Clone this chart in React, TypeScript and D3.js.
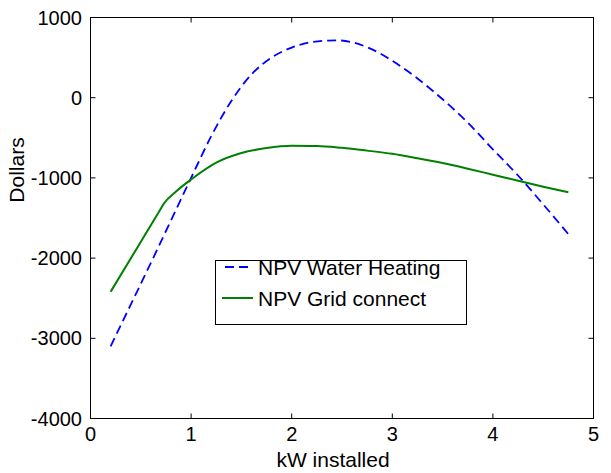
import React from "react";
import * as d3 from "d3";

const xTicks = [0, 1, 2, 3, 4, 5];
const yTicks = [1000, 0, -1000, -2000, -3000, -4000];

const waterX = [0.2, 0.4, 0.6, 0.8, 1.0, 1.2, 1.4, 1.6, 1.8, 2.0, 2.2, 2.45, 2.75, 3.0, 3.25, 3.5, 3.75, 4.0, 4.25, 4.5, 4.75];
const waterY = [-3100, -2580, -2060, -1530, -1000, -480, -40, 290, 500, 625, 695, 715, 630, 460, 240, -20, -310, -645, -970, -1330, -1700];

const gridX = [0.2, 0.46, 0.7, 0.73, 0.85, 1.0, 1.25, 1.5, 1.75, 2.0, 2.25, 2.5, 2.75, 3.0, 3.25, 3.5, 3.75, 4.0, 4.25, 4.5, 4.75];
const gridY = [-2420, -1880, -1382, -1320, -1170, -1020, -810, -690, -628, -600, -602, -625, -660, -700, -755, -815, -885, -960, -1035, -1110, -1180];

const legendLabels = ["NPV Water Heating", "NPV Grid connect"];

const W = 611, H = 473;
const L = 90.5, R = 593.5, T = 17.5, B = 418.5;
const FONT = "'Liberation Sans', Arial, Helvetica, sans-serif";

export default function App() {
  const x = d3.scaleLinear().domain([0, 5]).range([L, R]);
  const y = d3.scaleLinear().domain([-4000, 1000]).range([B, T]);
  const line = d3
    .line<[number, number]>()
    .x((d) => x(d[0]))
    .y((d) => y(d[1]))
    .curve(d3.curveMonotoneX);
  const water = line(waterX.map((v, i) => [v, waterY[i]] as [number, number])) || "";
  const grid = line(gridX.map((v, i) => [v, gridY[i]] as [number, number])) || "";
  const tl = 5;

  return (
    <svg width={W} height={H} style={{ position: "absolute", left: 0, top: 0, background: "#fff" }} fontFamily={FONT}>
      <rect x={0} y={0} width={W} height={H} fill="#fff" />
      <path d={water} fill="none" stroke="#0000ff" strokeWidth={1.8} strokeDasharray="9,5" />
      <path d={grid} fill="none" stroke="#008000" strokeWidth={2} />
      <rect x={L} y={T} width={R - L} height={B - T} fill="none" stroke="#000" strokeWidth={1} />
      {xTicks.map((t) => (
        <g key={"x" + t}>
          <line x1={x(t)} x2={x(t)} y1={B} y2={B - tl} stroke="#000" />
          <line x1={x(t)} x2={x(t)} y1={T} y2={T + tl} stroke="#000" />
          <text x={x(t)} y={441} fontSize={20} textAnchor="middle">{t}</text>
        </g>
      ))}
      {yTicks.map((t) => (
        <g key={"y" + t}>
          <line x1={L} x2={L + tl} y1={y(t)} y2={y(t)} stroke="#000" />
          <line x1={R} x2={R - tl} y1={y(t)} y2={y(t)} stroke="#000" />
          <text x={82} y={y(t) + 7} fontSize={20} textAnchor="end">{t}</text>
        </g>
      ))}
      <text x={333} y={467} fontSize={21} textAnchor="middle">kW installed</text>
      <text transform={`translate(24,170) rotate(-90)`} fontSize={21} textAnchor="middle">Dollars</text>
      <g>
        <rect x={215.5} y={260.5} width={251} height={64} fill="#fff" stroke="#000" strokeWidth={1} />
        <line x1={225} x2={253} y1={267} y2={267} stroke="#0000ff" strokeWidth={1.8} strokeDasharray="9,5" />
        <line x1={222} x2={253} y1={298} y2={298} stroke="#008000" strokeWidth={2} />
        <text x={258} y={275} fontSize={21}>{legendLabels[0]}</text>
        <text x={258} y={306} fontSize={21}>{legendLabels[1]}</text>
      </g>
    </svg>
  );
}
